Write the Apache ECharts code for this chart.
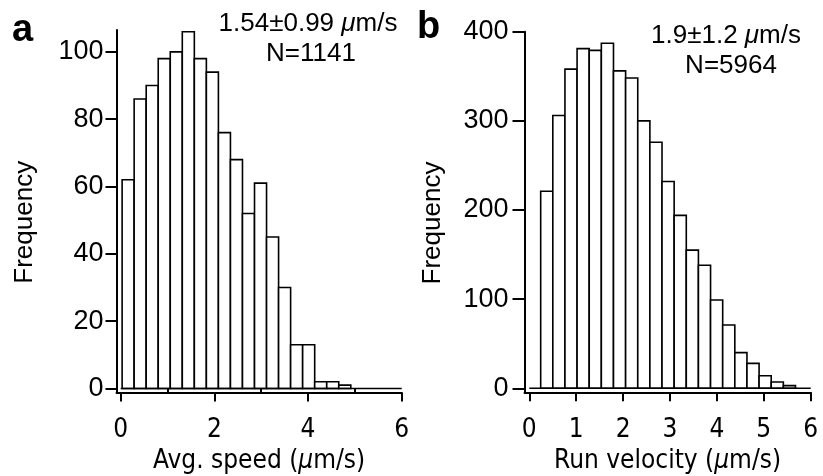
<!DOCTYPE html>
<html><head><meta charset="utf-8">
<script src="https://cdn.jsdelivr.net/npm/echarts@6/dist/echarts.min.js"></script>
<style>html,body{margin:0;padding:0;background:#fff}#c{width:823px;height:476px}</style>
</head><body><div id="c"></div>
<script>
// ---- data ----
const leftCounts = [62, 86, 90, 98, 100, 106, 98, 94, 76, 68, 52, 61, 45, 30, 13, 13, 2, 2, 1];
const leftBinStart = 0.03, leftBinWidth = 0.257;
const rightCounts = [221, 306, 358, 381, 379, 387, 356, 348, 300, 276, 232, 194, 155, 138, 99, 71, 40, 28, 14, 7, 3];
const rightBinStart = 0.243, rightBinWidth = 0.2587;
const leftXLabels = [0, 2, 4, 6];
const leftXMinor = [1, 3, 5];
const leftYTicks = [0, 20, 40, 60, 80, 100];
const rightXTicks = [0, 1, 2, 3, 4, 5, 6];
const rightYTicks = [0, 100, 200, 300, 400];
const baselineRange = [0, 6];
const leftStat = ['1.54±0.99 ', 'N=1141'];
const rightStat = ['1.9±1.2 ', 'N=5964'];
const leftXName = ['Avg. speed (', 'm/s)'];
const rightXName = ['Run velocity (', 'm/s)'];
const yName = 'Frequency';
const panelLetters = ['a', 'b'];

// ---- build ----
function bins(counts, start, width) {
  return counts.map((c, i) => [start + i * width, start + (i + 1) * width, c]);
}
const REG = "'Liberation Sans', Arial, sans-serif";
const NARROW = "'Liberation Sans Narrow', 'Arial Narrow', 'DejaVu Sans Condensed', 'Liberation Sans', sans-serif";
const FS = 26;
const black = '#000';

function renderBar(params, api) {
  const x0 = api.value(0), x1 = api.value(1), v = api.value(2);
  const p0 = api.coord([x0, 0]), p1 = api.coord([x1, v]);
  return {
    type: 'rect',
    shape: { x: p0[0], y: p1[1], width: p1[0] - p0[0], height: p0[1] - p1[1] },
    style: { fill: '#fff', stroke: black, lineWidth: 1.6 }
  };
}

const richName = {
  n: { fontSize: FS, fontFamily: NARROW, color: black },
  i: { fontSize: FS, fontFamily: NARROW, fontStyle: 'italic', color: black }
};

function xAxisMain(grid, min, ticks, labels, nameParts) {
  return {
    type: 'value', gridIndex: grid, position: 'bottom', min: min, max: 6,
    axisLine: { show: true, onZero: false, lineStyle: { color: black, width: 2 } },
    axisTick: { show: true, customValues: ticks, length: 9, lineStyle: { color: black, width: 2 } },
    axisLabel: { customValues: labels, color: black, fontSize: FS, fontFamily: NARROW, margin: 25 },
    splitLine: { show: false },
    name: '{n|' + nameParts[0] + '}{i|μ}{n|' + nameParts[1] + '}',
    nameLocation: 'middle', nameGap: 55,
    nameTextStyle: { rich: richName, fontSize: FS, fontFamily: NARROW, color: black }
  };
}
function yAxisMain(grid, min, max, ticks, tickLen, margin) {
  return {
    type: 'value', gridIndex: grid, position: 'left', min: min, max: max,
    axisLine: { show: true, onZero: false, lineStyle: { color: black, width: 2 } },
    axisTick: { show: true, customValues: ticks, length: tickLen, lineStyle: { color: black, width: 2 } },
    axisLabel: { customValues: ticks, color: black, fontSize: 27, fontFamily: REG, margin: margin },
    splitLine: { show: false },
    name: yName, nameLocation: 'middle', nameGap: 79, nameRotate: 90,
    nameTextStyle: { color: black, fontSize: FS, fontFamily: REG, padding: [0, 22, 0, 0] }
  };
}

const option = {
  backgroundColor: '#fff',
  animation: false,
  grid: [
    { left: 116.5, top: 30, width: 285.2, height: 362.5, containLabel: false, outerBoundsMode: 'none' },
    { left: 524.5, top: 31.7, width: 286.2, height: 360.6, containLabel: false, outerBoundsMode: 'none' }
  ],
  xAxis: [
    xAxisMain(0, -0.09, leftXLabels, leftXLabels, leftXName),
    {
      type: 'value', gridIndex: 0, position: 'bottom', min: -0.09, max: 6,
      axisLine: { show: false },
      axisTick: { show: true, customValues: leftXMinor, length: 5, lineStyle: { color: black, width: 2 } },
      axisLabel: { show: false }, splitLine: { show: false }
    },
    xAxisMain(1, -0.102, rightXTicks, rightXTicks, rightXName)
  ],
  yAxis: [
    yAxisMain(0, -1.19, 106.5, leftYTicks, 11, 13),
    yAxisMain(1, -4.5, 400, rightYTicks, 12, 16)
  ],
  series: [
    { type: 'line', xAxisIndex: 0, yAxisIndex: 0, data: baselineRange.map(x => [x, 0]), symbol: 'none',
      lineStyle: { color: black, width: 1.6 }, silent: true },
    { type: 'custom', xAxisIndex: 0, yAxisIndex: 0, renderItem: renderBar,
      encode: { x: [0, 1], y: 2 }, data: bins(leftCounts, leftBinStart, leftBinWidth) },
    { type: 'line', xAxisIndex: 2, yAxisIndex: 1, data: baselineRange.map(x => [x, 0]), symbol: 'none',
      lineStyle: { color: black, width: 1.6 }, silent: true },
    { type: 'custom', xAxisIndex: 2, yAxisIndex: 1, renderItem: renderBar,
      encode: { x: [0, 1], y: 2 }, data: bins(rightCounts, rightBinStart, rightBinWidth) }
  ],
  graphic: [
    { type: 'text', left: 12, top: 12, style: { text: panelLetters[0], font: "bold 38px 'Liberation Sans', Arial, sans-serif", fill: black } },
    { type: 'text', left: 417, top: 9, style: { text: panelLetters[1], font: "bold 38px 'Liberation Sans', Arial, sans-serif", fill: black } },
    { type: 'text', x: 308, y: 24, style: { text: '{n|' + leftStat[0] + '}{i|μ}{n|m/s}', align: 'center', verticalAlign: 'middle',
        rich: { n: { fontSize: FS, fontFamily: REG, fill: black }, i: { fontSize: FS, fontFamily: REG, fontStyle: 'italic', fill: black } } } },
    { type: 'text', x: 311, y: 54, style: { text: leftStat[1], align: 'center', verticalAlign: 'middle', fontSize: FS, fontFamily: REG, fill: black } },
    { type: 'text', x: 726, y: 36, style: { text: '{n|' + rightStat[0] + '}{i|μ}{n|m/s}', align: 'center', verticalAlign: 'middle',
        rich: { n: { fontSize: FS, fontFamily: REG, fill: black }, i: { fontSize: FS, fontFamily: REG, fontStyle: 'italic', fill: black } } } },
    { type: 'text', x: 731, y: 66, style: { text: rightStat[1], align: 'center', verticalAlign: 'middle', fontSize: FS, fontFamily: REG, fill: black } }
  ]
};
const chart = echarts.init(document.getElementById('c'), null, { renderer: 'canvas' });
chart.setOption(option);
</script></body></html>
